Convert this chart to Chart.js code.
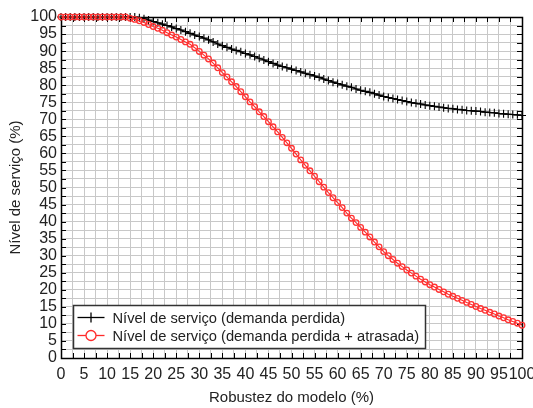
<!DOCTYPE html>
<html>
<head>
<meta charset="utf-8">
<script src="https://cdn.jsdelivr.net/npm/chart.js@4.4.1/dist/chart.umd.min.js"></script>
<style>
html, body { margin: 0; padding: 0; background: #fff; }
#wrap { width: 533px; height: 408px; }
</style>
</head>
<body>
<div id="wrap"><canvas id="grafico"></canvas></div>
<script>
// eixo x: robustez do modelo (%)
let robustez = [0,1,2,3,4,5,6,7,8,9,10,11,12,13,14,15,16,17,18,19,20,
  21,22,23,24,25,26,27,28,29,30,31,32,33,34,35,36,37,38,39,40,
  41,42,43,44,45,46,47,48,49,50,51,52,53,54,55,56,57,58,59,60,
  61,62,63,64,65,66,67,68,69,70,71,72,73,74,75,76,77,78,79,80,
  81,82,83,84,85,86,87,88,89,90,91,92,93,94,95,96,97,98,99,100];

// nivel de servico (demanda perdida)
let nivelPerdida = [100,100,100,100,100,100,100,100,100,100,100,100,100,100,100,100,100,
  99.8,99.5,99.1,98.7,98.3,97.9,97.5,97.1,96.6,96.2,
  95.7,95.2,94.7,94.3,
  93.8,93.3,92.7,92.1,91.6, 91.1,90.6,90.2,89.8,89.3,
  88.9,88.4,87.9,87.4,86.9, 86.4,85.9,85.5,85.1,84.7,
  84.3,83.9,83.5,83.1,82.7, 82.3,81.8,81.4,80.9,80.5,
  80.1,79.7,79.4,78.9,78.5, 78.2,77.9,77.5,77.1,76.7,
  76.4,76.1,75.8,75.5,75.2, 74.9,74.7,74.5,74.2,74.0,
  73.8,73.6,73.4,73.2,73.1, 72.9,72.8,72.6,72.5,72.4,
  72.3,72.1,72.0,71.9,71.7, 71.6,71.5,71.4,71.3,71.1];

// nivel de servico (demanda perdida + atrasada)
let nivelAtrasada = [100,100,100,100,100,100,100,100,100,100,100,100,100,100,100,
  99.6,99.3,98.9,98.4,97.8,97.2,96.7,96.1,95.4,94.7,
  94.1,93.4,92.7,92.0,91.0,89.9,88.8,87.7,86.5,85.1,
  83.7,82.4,81.0,79.6,78.1,76.6,75.1,73.7,72.2,70.8,
  69.3,67.8,66.3,64.7,63.1,61.5,59.8,58.1,56.5,54.9,
  53.3,51.7,50.1,48.5,47.0,45.6,44.1,42.5,41.0,39.7,
  38.3,36.9,35.5,34.0,32.6,31.2,30.0,28.9,27.8,26.8,
  25.8,24.9,24.0,23.1,22.3,21.5,20.8,20.1,19.4,18.7,
  18.1,17.5,16.9,16.3,15.7,15.1,14.5,14.0,13.4,12.9,
  12.3,11.8,11.2,10.7,10.2,9.6];

let rotulos = ['Nível de serviço (demanda perdida)', 'Nível de serviço (demanda perdida + atrasada)'];

const fonte = "'Liberation Sans', Arial, Helvetica, sans-serif";
const corTexto = '#222';

function pontos(valores) {
  return robustez.map((x, i) => ({ x: x, y: valores[i] }));
}

const painel = {
  id: 'painel',
  beforeDatasetsDraw(chart) {
    const { ctx, chartArea: a, scales: { x, y } } = chart;
    ctx.save();
    ctx.strokeStyle = '#000';
    ctx.lineWidth = 1;
    ctx.beginPath();
    x.ticks.forEach(t => {
      const px = Math.round(x.getPixelForValue(t.value)) + 0.5;
      ctx.moveTo(px, a.bottom); ctx.lineTo(px, a.bottom - 5);
      ctx.moveTo(px, a.top); ctx.lineTo(px, a.top + 5);
    });
    y.ticks.forEach(t => {
      const py = Math.round(y.getPixelForValue(t.value)) + 0.5;
      ctx.moveTo(a.left, py); ctx.lineTo(a.left + 5, py);
      ctx.moveTo(a.right, py); ctx.lineTo(a.right - 5, py);
    });
    ctx.stroke();
    ctx.lineWidth = 1.5;
    ctx.strokeRect(Math.round(a.left) + 0.5, Math.round(a.top) + 0.5,
      Math.round(a.right - a.left), Math.round(a.bottom - a.top));
    ctx.restore();
  },
  afterDraw(chart) {
    const { ctx, chartArea: a } = chart;
    ctx.save();
    ctx.font = '14.7px ' + fonte;
    let largura = 0;
    chart.data.datasets.forEach(d => { largura = Math.max(largura, ctx.measureText(d.label).width); });
    const bx = Math.round(a.left) + 12.5, by = Math.round(a.bottom) - 52.5;
    const bw = Math.round(39 + largura + 6), bh = 43;
    ctx.fillStyle = '#fff';
    ctx.fillRect(bx, by, bw, bh);
    ctx.strokeStyle = '#333';
    ctx.lineWidth = 1.5;
    ctx.strokeRect(bx, by, bw, bh);
    chart.data.datasets.forEach((d, i) => {
      const cy = by + 12 + i * 18;
      ctx.strokeStyle = d.borderColor;
      ctx.lineWidth = 1.3;
      ctx.beginPath();
      ctx.moveTo(bx + 4, cy); ctx.lineTo(bx + 31, cy);
      ctx.stroke();
      const cx = bx + 17.5;
      if (d.pointStyle === 'circle') {
        ctx.fillStyle = '#fff';
        ctx.beginPath();
        ctx.arc(cx, cy, 5, 0, Math.PI * 2);
        ctx.fill();
        ctx.stroke();
      } else {
        ctx.beginPath();
        ctx.moveTo(cx, cy - 5); ctx.lineTo(cx, cy + 5);
        ctx.stroke();
      }
      ctx.fillStyle = corTexto;
      ctx.textBaseline = 'middle';
      ctx.textAlign = 'left';
      ctx.fillText(d.label, bx + 39, cy + 1);
    });
    ctx.restore();
  }
};

new Chart(document.getElementById('grafico'), {
  type: 'line',
  data: {
    datasets: [
      {
        label: rotulos[0],
        data: pontos(nivelPerdida),
        borderColor: '#000',
        borderWidth: 1.3,
        pointStyle: 'cross',
        pointRadius: 4,
        pointBorderWidth: 1.1,
        pointBorderColor: '#000',
        order: 2,
        clip: false
      },
      {
        label: rotulos[1],
        data: pontos(nivelAtrasada),
        borderColor: '#ff2a2a',
        borderWidth: 1.1,
        pointStyle: 'circle',
        pointRadius: 2.8,
        pointBorderWidth: 1.3,
        pointBorderColor: '#ff3333',
        pointBackgroundColor: 'rgba(255,255,255,0)',
        order: 1,
        clip: false
      }
    ]
  },
  options: {
    responsive: true,
    maintainAspectRatio: false,
    animation: false,
    layout: { padding: { left: 0, right: 11, top: 17, bottom: 0 } },
    plugins: {
      legend: { display: false },
      tooltip: { enabled: false }
    },
    scales: {
      x: {
        type: 'linear',
        min: 0, max: 100,
        border: { display: false },
        grid: { color: '#c8c8c8', lineWidth: 1, drawTicks: false },
        ticks: {
          stepSize: 2.5, autoSkip: false, maxRotation: 0, padding: 7,
          color: corTexto, font: { family: fonte, size: 16 },
          callback: v => (v % 5 === 0 ? v : '')
        },
        title: {
          display: true, text: 'Robustez do modelo (%)',
          color: corTexto, font: { family: fonte, size: 15 }, padding: { top: 0, bottom: 1 }
        },
        afterFit: s => { s.height = 50; s.paddingLeft = 0; s.paddingRight = 0; }
      },
      y: {
        min: 0, max: 100,
        border: { display: false },
        grid: { color: '#c8c8c8', lineWidth: 1, drawTicks: false },
        ticks: {
          stepSize: 2.5, autoSkip: false, padding: 4,
          color: corTexto, font: { family: fonte, size: 16 },
          callback: v => (v % 5 === 0 ? v : '')
        },
        title: {
          display: true, text: 'Nível de serviço (%)',
          color: corTexto, font: { family: fonte, size: 15 }, padding: { top: 7, bottom: 0 }
        },
        afterFit: s => { s.width = 61; s.paddingTop = 0; s.paddingBottom = 0; }
      }
    }
  },
  plugins: [painel]
});
</script>
</body>
</html>
